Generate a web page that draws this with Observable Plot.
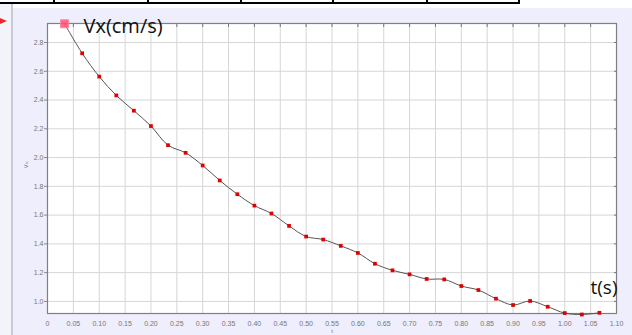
<!DOCTYPE html>
<html>
<head>
<meta charset="utf-8">
<script src="https://cdn.jsdelivr.net/npm/d3@7"></script>
<script src="https://cdn.jsdelivr.net/npm/@observablehq/plot@0.6"></script>
<style>
  html, body { margin: 0; padding: 0; }
  body { width: 632px; height: 335px; background: #eeeefc; position: relative; overflow: hidden; }
  .abs { position: absolute; }
  #chart { position: absolute; left: 0; top: 0; }
</style>
</head>
<body>
<div class="abs" style="left:0;top:0;width:632px;height:8px;background:#fff"></div>
<div class="abs" style="left:0;top:4px;width:11px;height:331px;background:#f3f3fa"></div>
<div class="abs" style="left:11px;top:4px;width:2px;height:331px;background:#c9c9d3"></div>
<div class="abs" style="left:0;top:2px;width:520px;height:2px;background:#000"></div>
<div class="abs" style="left:53px;top:0;width:2px;height:4px;background:#000"></div>
<div class="abs" style="left:147px;top:0;width:2px;height:4px;background:#000"></div>
<div class="abs" style="left:240px;top:0;width:2px;height:4px;background:#000"></div>
<div class="abs" style="left:332px;top:0;width:2px;height:4px;background:#000"></div>
<div class="abs" style="left:426px;top:0;width:2px;height:4px;background:#000"></div>
<div class="abs" style="left:518px;top:0;width:2px;height:4px;background:#000"></div>
<div class="abs" style="left:0;top:18px;width:0;height:0;border-top:3.5px solid transparent;border-bottom:3.5px solid transparent;border-left:7px solid #e8282b"></div>
<div id="chart"></div>
<script>
// Data
const t = [0.033, 0.067, 0.100, 0.133, 0.167, 0.200, 0.233, 0.267, 0.300, 0.333,
           0.367, 0.400, 0.433, 0.467, 0.500, 0.533, 0.567, 0.600, 0.633, 0.667,
           0.700, 0.733, 0.767, 0.800, 0.833, 0.867, 0.900, 0.933, 0.967, 1.000,
           1.033, 1.067];
const vx = [2.93, 2.725, 2.563, 2.432, 2.326, 2.219, 2.086, 2.033, 1.945, 1.841,
            1.745, 1.666, 1.611, 1.525, 1.451, 1.430, 1.386, 1.337, 1.262, 1.216,
            1.188, 1.156, 1.153, 1.107, 1.079, 1.019, 0.975, 1.003, 0.963, 0.919,
            0.909, 0.921];
const xTicks = [0, 0.05, 0.10, 0.15, 0.20, 0.25, 0.30, 0.35, 0.40, 0.45, 0.50, 0.55,
                0.60, 0.65, 0.70, 0.75, 0.80, 0.85, 0.90, 0.95, 1.00, 1.05, 1.10];
const yTicks = [1.0, 1.2, 1.4, 1.6, 1.8, 2.0, 2.2, 2.4, 2.6, 2.8];
const titleLabel = "Vx(cm/s)";
const timeLabel = "t(s)";
const xAxisName = "t";
const yAxisName = "vₓ";

const data = t.map((d, i) => ({t: d, v: vx[i]}));
const xFmt = d => d === 0 ? "0" : d.toFixed(2);
const yFmt = d => d.toFixed(1);

const chart = Plot.plot({
  width: 632,
  height: 335,
  marginLeft: 47,
  marginRight: 16,
  marginTop: 23,
  marginBottom: 22,
  x: {domain: [0, 1.1], label: null},
  y: {domain: [0.916, 2.932], label: null},
  style: {background: "transparent", fontFamily: "'Liberation Sans', Arial, sans-serif", fontSize: "7px", color: "#777"},
  marks: [
    Plot.frame({fill: "white", stroke: "none"}),
    Plot.gridX(xTicks, {stroke: "#d6d6d6", strokeOpacity: 1}),
    Plot.gridY(yTicks, {stroke: "#d6d6d6", strokeOpacity: 1}),
    Plot.axisX(xTicks, {anchor: "bottom", tickSize: 0, tickPadding: 8, tickFormat: xFmt, label: null, fill: "#777"}),
    Plot.axisY(yTicks, {anchor: "left", tickSize: 3, tickPadding: 1, tickFormat: yFmt, label: null, fill: "#777", stroke: "#888"}),
    Plot.axisX(xTicks, {anchor: "top", tickSize: -3, text: null, label: null, stroke: "#777"}),
    Plot.axisY(yTicks, {anchor: "right", tickSize: -3, text: null, label: null, stroke: "#777"}),
    Plot.frame({stroke: "#808080", strokeWidth: 1.2}),
    Plot.line(data, {x: "t", y: "v", stroke: "#555", strokeWidth: 1, curve: "catmull-rom"}),
    Plot.dot(data.slice(1), {x: "t", y: "v", symbol: "square", r: 2.1, fill: "#e00000", stroke: "none"}),
    Plot.dot(data.slice(0, 1), {x: "t", y: "v", symbol: "square", r: 4.5, fill: "#ff5070", fillOpacity: 0.85, stroke: "#ff8899", strokeWidth: 1}),
    Plot.text([titleLabel], {frameAnchor: "top-left", dx: 36, dy: 3, textAnchor: "start", lineAnchor: "middle", fontSize: 20, fontWeight: 500, fontFamily: "'Open Sans', sans-serif", fill: "#111", letterSpacing: 1}),
    Plot.text([timeLabel], {frameAnchor: "bottom-right", dx: 1, dy: -26, textAnchor: "end", lineAnchor: "middle", fontSize: 19, fontWeight: 500, fontFamily: "'Open Sans', sans-serif", fill: "#111"}),
    Plot.text([xAxisName], {frameAnchor: "bottom", dy: 19, fontSize: 6, fill: "#777"}),
    Plot.text([yAxisName], {frameAnchor: "left", dx: -22, rotate: -90, fontSize: 7, fontFamily: "'DejaVu Sans', sans-serif", fill: "#777"})
  ]
});
document.getElementById("chart").appendChild(chart);
</script>
</body>
</html>
